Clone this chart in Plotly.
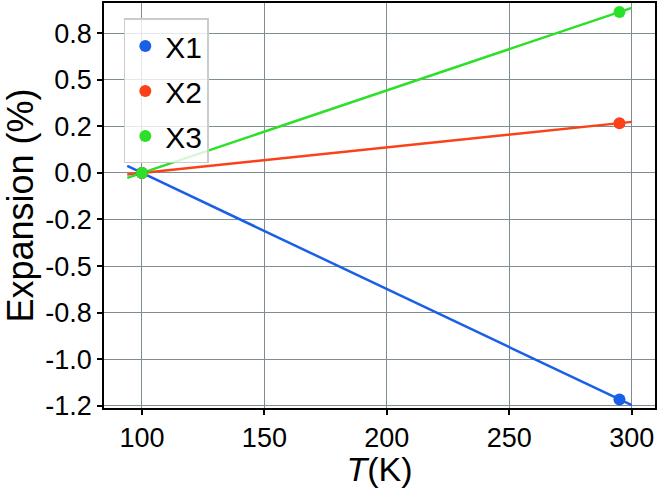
import numpy as np
import plotly.graph_objects as go

# Data
temperature = [100, 295]
series_names = ["X1", "X2", "X3"]
x1_values = [0.0, -1.216]
x2_values = [0.0, 0.267]
x3_values = [0.0, 0.864]
fit_range = [94, 300]
colors = ["#1a5fe8", "#fb4119", "#2ce02a"]
y_tickvals = [0.75, 0.5, 0.25, 0.0, -0.25, -0.5, -0.75, -1.0, -1.25]
y_ticktext = ["0.8", "0.5", "0.2", "0.0", "-0.2", "-0.5", "-0.8", "-1.0", "-1.2"]
x_tickvals = [100, 150, 200, 250, 300]

fig = go.Figure()
all_values = [x1_values, x2_values, x3_values]
for name, vals, col in zip(series_names, all_values, colors):
    coef = np.polyfit(temperature, vals, 1)
    fx = np.array(fit_range, dtype=float)
    fig.add_trace(go.Scatter(x=fx, y=np.polyval(coef, fx), mode="lines",
                             line=dict(color=col, width=2.5), showlegend=False,
                             hoverinfo="skip"))
for name, vals, col in zip(series_names, all_values, colors):
    fig.add_trace(go.Scatter(x=temperature, y=vals, mode="markers", name=name,
                             legendgroup=name,
                             marker=dict(color=col, size=12)))

font_family = "Liberation Sans, Arial, Helvetica, sans-serif"
axis_common = dict(showline=True, linecolor="black", linewidth=1.5, mirror=True,
                   ticks="outside", ticklen=5, tickcolor="black", tickwidth=1.5,
                   showgrid=True, gridcolor="#7d8d92", gridwidth=1.2,
                   zeroline=False, automargin=False,
                   tickfont=dict(size=27, color="black"))

fig.update_layout(
    width=661, height=488,
    margin=dict(l=104, r=6, t=3, b=80),
    paper_bgcolor="white", plot_bgcolor="white",
    font=dict(family=font_family, color="black"),
    xaxis=dict(range=[84.5, 309.5], tickvals=x_tickvals,
               title=dict(text="<i>T</i>(K)", font=dict(size=34), standoff=8),
               **axis_common),
    yaxis=dict(range=[-1.262, 0.912], tickvals=y_tickvals, ticktext=y_ticktext,
               title=dict(text="Expansion (%)", font=dict(size=36), standoff=16),
               **axis_common),
    legend=dict(x=0.036, y=0.962, xanchor="left", yanchor="top",
                bgcolor="rgba(255,255,255,0.8)", bordercolor="#c8cccc", borderwidth=1.5,
                font=dict(size=30, color="black"), traceorder="grouped",
                tracegroupgap=3, itemwidth=30),
    showlegend=True,
)

fig.write_html("out.html", config={"displayModeBar": False},
               post_script="document.body.style.margin='0';document.body.style.overflow='hidden';")
